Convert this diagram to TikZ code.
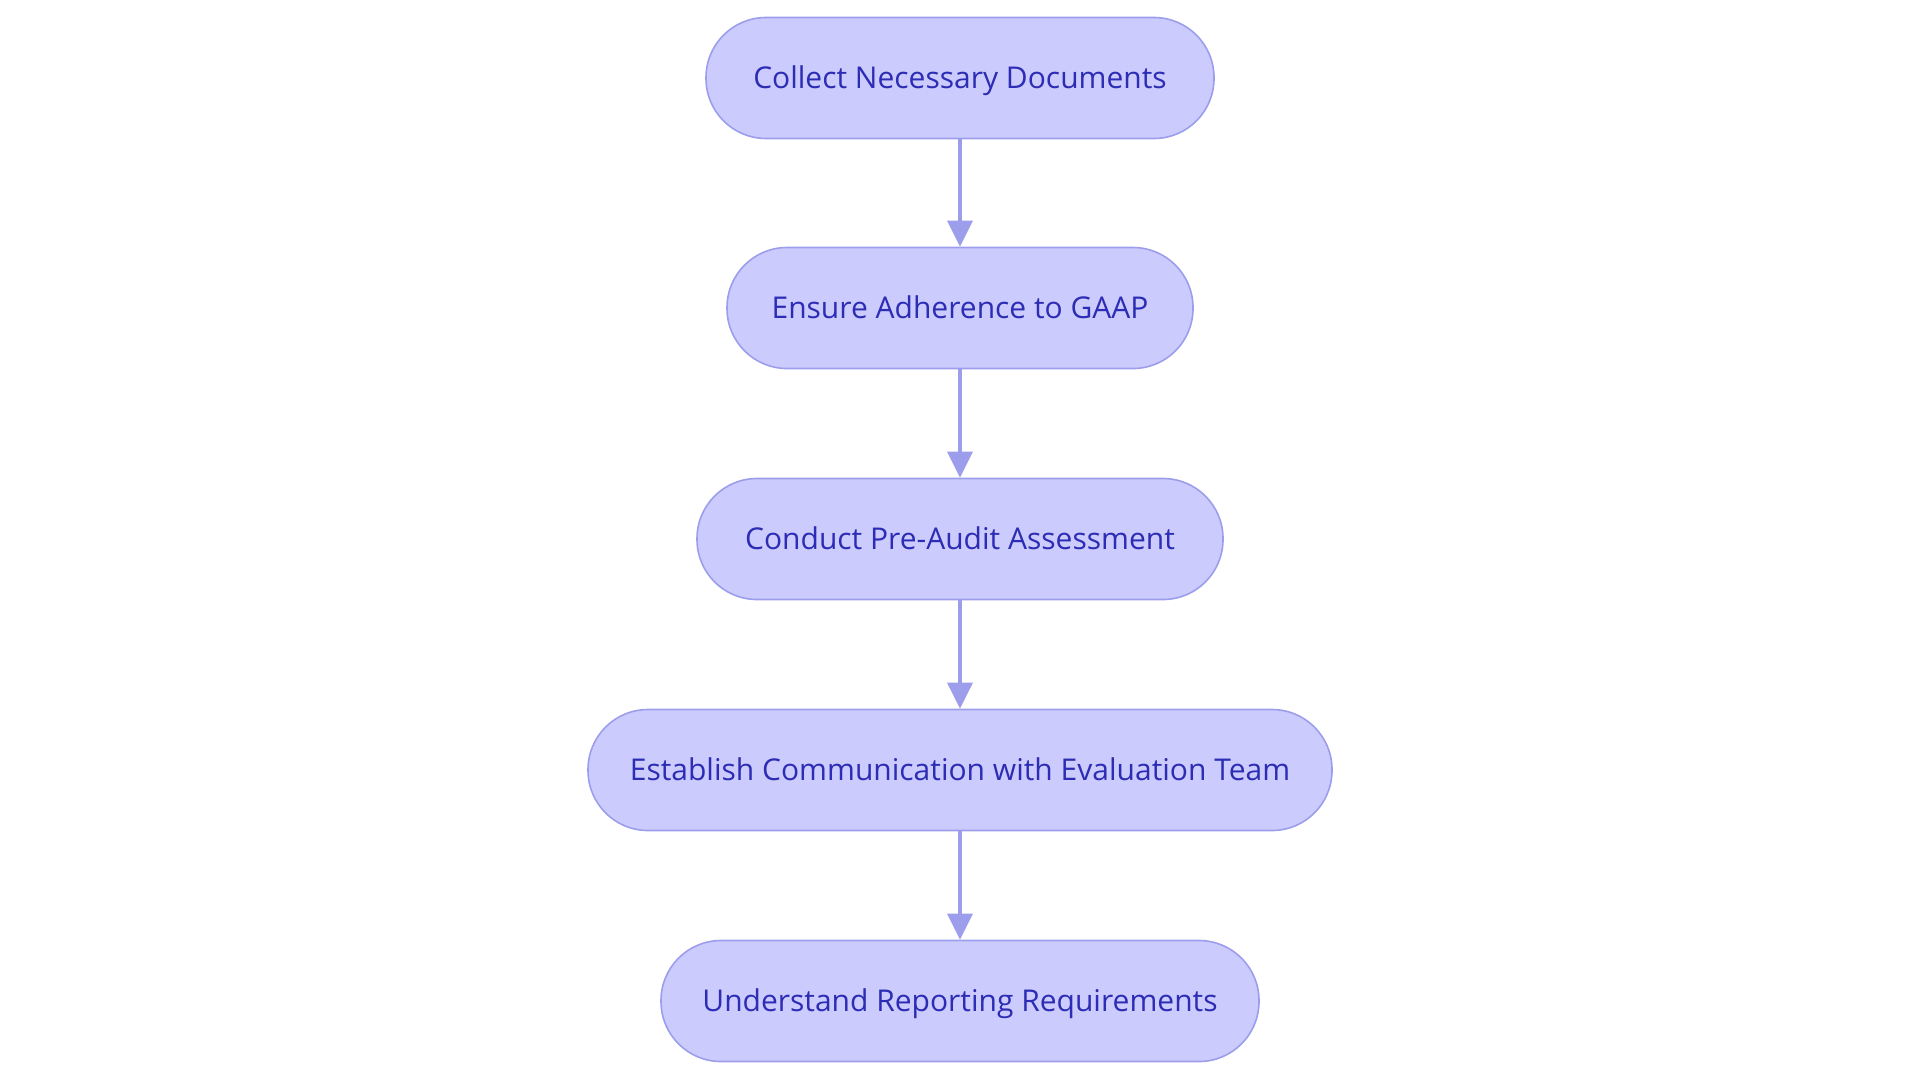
\documentclass[tikz,border=0pt]{standalone}
\usepackage{fontspec}
\setmainfont{Open Sans}
\usetikzlibrary{arrows.meta}
\definecolor{nodefill}{HTML}{CBCBFD}
\definecolor{nodeborder}{HTML}{9C9EEC}
\definecolor{nodetext}{HTML}{2C2CB4}
\definecolor{arrowcol}{HTML}{9C9EEC}
\begin{document}
\begin{tikzpicture}[x=1pt,y=-1pt,
  stepbox/.style={draw=nodeborder, line width=1.6pt, fill=nodefill, text=nodetext,
    rounded corners=60pt, minimum height=121pt, inner sep=0pt,
    text height=21.5pt, text depth=0pt, font=\fontsize{30}{34}\selectfont},
  flow/.style={draw=arrowcol, line width=3.4pt, -{Triangle[length=26pt,width=25pt]}}]
\useasboundingbox (0,0) rectangle (1920,1080);
\node[stepbox, minimum width=508pt] (a) at (960,78) {Collect Necessary Documents};
\node[stepbox, minimum width=466pt] (b) at (960,308) {Ensure Adherence to GAAP};
\node[stepbox, minimum width=526pt] (c) at (960,539) {Conduct Pre-Audit Assessment};
\node[stepbox, minimum width=744pt] (d) at (960,770) {Establish Communication with Evaluation Team};
\node[stepbox, minimum width=598pt] (e) at (960,1001) {Understand Reporting Requirements};
\draw[flow] (a) -- (b);
\draw[flow] (b) -- (c);
\draw[flow] (c) -- (d);
\draw[flow] (d) -- (e);
\end{tikzpicture}
\end{document}
